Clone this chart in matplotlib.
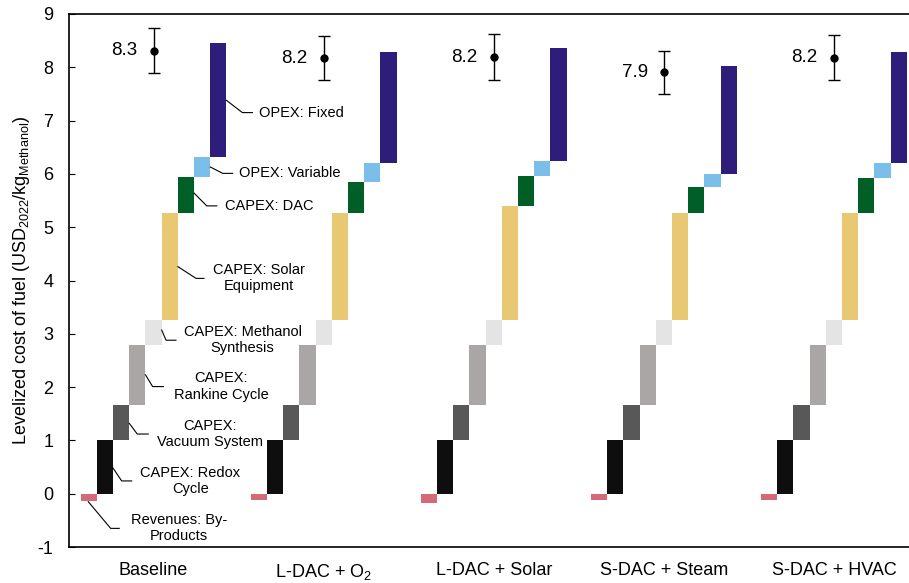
import matplotlib.pyplot as plt
import numpy as np

plt.rcParams['font.family'] = ['Liberation Sans', 'DejaVu Sans']
plt.rcParams['mathtext.default'] = 'regular'
plt.rcParams['axes.unicode_minus'] = False

scenarios = ["Baseline", "L-DAC + O$_2$", "L-DAC + Solar", "S-DAC + Steam", "S-DAC + HVAC"]

# cost components (USD2022 per kg methanol), revenues negative
revenues   = [-0.14, -0.12, -0.18, -0.12, -0.11]
redox      = [1.00, 1.00, 1.00, 1.00, 1.00]
vacuum     = [0.66, 0.66, 0.66, 0.66, 0.66]
rankine    = [1.13, 1.13, 1.13, 1.13, 1.13]
methanol   = [0.46, 0.46, 0.46, 0.46, 0.46]
solar      = [2.02, 2.02, 2.15, 2.01, 2.01]
dac        = [0.68, 0.58, 0.57, 0.49, 0.66]
opex_var   = [0.37, 0.36, 0.28, 0.25, 0.28]
opex_fixed = [2.13, 2.08, 2.12, 2.03, 2.09]

err_lo = [0.42, 0.41, 0.43, 0.42, 0.42]
err_hi = [0.42, 0.42, 0.43, 0.40, 0.42]

costs = [redox, vacuum, rankine, methanol, solar, dac, opex_var, opex_fixed]
colors = ['#d46a78', '#0e0e0e', '#585858', '#aba6a6', '#e4e4e4',
          '#e8c873', '#005f26', '#79bfe9', '#2f1d7b']

# annotation text, (start x,y), (elbow x,y), end x, text x, alignment
notes = [
    ("OPEX: Fixed",              (9.0, 7.38), (9.98, 7.15), 10.6, 11.0, 'left'),
    ("OPEX: Variable",           (8.0, 6.13), (8.77, 6.01), 9.38, 9.79, 'left'),
    ("CAPEX: DAC",               (7.0, 5.64), (7.78, 5.40), 8.40, 8.90, 'left'),
    ("CAPEX: Solar\nEquipment",  (6.0, 4.26), (7.12, 4.04), 7.61, 11.0, 'center'),
    ("CAPEX: Methanol\nSynthesis", (5.0, 3.07), (5.27, 2.88), 5.88, 10.0, 'center'),
    ("CAPEX:\nRankine Cycle",    (4.0, 2.23), (4.44, 2.01), 5.10, 8.68, 'center'),
    ("CAPEX:\nVacuum System",    (3.0, 1.32), (3.49, 1.12), 4.17, 8.00, 'center'),
    ("CAPEX: Redox\nCycle",      (2.0, 0.48), (2.53, 0.24), 3.15, 6.76, 'center'),
    ("Revenues: By-\nProducts",  (0.47, -0.15), (1.85, -0.65), 2.38, 6.08, 'center'),
]

group_step = 10.5

fig = plt.figure(figsize=(9.09, 5.83), dpi=100)
ax = fig.add_axes([0.0754, 0.0617, 0.9246, 0.9143])

for g in range(len(scenarios)):
    x0 = g * group_step
    ax.bar(x0 + 0.5, revenues[g], bottom=0, width=1.0, color=colors[0])
    base = 0.0
    for i, comp in enumerate(costs):
        ax.bar(x0 + i + 1.5, comp[g], bottom=base, width=1.0, color=colors[i + 1])
        base += comp[g]
    net = base + revenues[g]
    xe = x0 + 4.5
    ax.errorbar(xe, net, yerr=[[err_lo[g]], [err_hi[g]]], fmt='o', color='black',
                markersize=5, capsize=4, elinewidth=1.0, capthick=1.0)
    ax.text(xe - 1.0, net, f"{net:.1f}", ha='right', va='center', fontsize=13.5)

for text, (sx, sy), (ex, ey), hx, tx, align in notes:
    ax.plot([sx, ex, hx], [sy, ey, ey], color='black', lw=0.8)
    ax.text(tx, ey, text, ha=align, va='center', multialignment='center',
            fontsize=10.5, linespacing=1.2)

ax.set_xlim(-0.75, 51.13)
ax.set_ylim(-1, 9)
ax.set_yticks(np.arange(-1, 10, 1))
ax.set_xticks([g * group_step + 4.5 for g in range(len(scenarios))])
ax.set_xticklabels(scenarios, fontsize=13)
ax.tick_params(axis='x', length=0, pad=11)
ax.tick_params(axis='y', direction='in', length=4, labelsize=13, pad=11)
ax.set_ylabel("Levelized cost of fuel (USD$_{2022}$/kg$_{Methanol}$)", fontsize=13, labelpad=4)

ax.spines['right'].set_visible(False)
for s in ['left', 'top', 'bottom']:
    ax.spines[s].set_linewidth(1.2)

plt.savefig('out.png', dpi=100)
